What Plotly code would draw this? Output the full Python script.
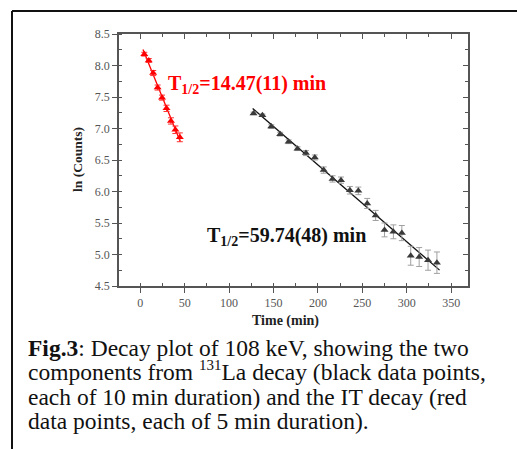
import numpy as np
import plotly.graph_objects as go

# IT decay (red), 5-min points
red_t = [4.5, 9.5, 14.5, 19.5, 24.5, 29.5, 34.5, 39.5, 44.5]
red_y = [8.18, 8.08, 7.88, 7.65, 7.49, 7.32, 7.12, 6.98, 6.86]
red_err = [0.03, 0.03, 0.04, 0.04, 0.04, 0.05, 0.05, 0.06, 0.07]

# 131La decay (black), 10-min points
blk_t = [127.5, 137.5, 147.5, 157.5, 167, 177, 186.5, 196.5, 206.5, 216.5, 226,
         236, 245.5, 255.5, 265, 275, 285, 294.5, 304.5, 314, 324, 334]
blk_y = [7.24, 7.21, 7.03, 6.91, 6.79, 6.68, 6.61, 6.54, 6.34, 6.20, 6.18,
         6.02, 6.01, 5.81, 5.62, 5.39, 5.36, 5.34, 4.98, 4.96, 4.91, 4.87]
blk_err = [0.02, 0.02, 0.03, 0.03, 0.03, 0.03, 0.04, 0.04, 0.05, 0.05, 0.05,
           0.06, 0.06, 0.08, 0.08, 0.11, 0.11, 0.12, 0.15, 0.15, 0.16, 0.17]

red_label = "T<sub>1/2</sub>=14.47(11) min"
blk_label = "T<sub>1/2</sub>=59.74(48) min"

x_ticks = [0, 50, 100, 150, 200, 250, 300, 350]
y_ticks = [4.5, 5.0, 5.5, 6.0, 6.5, 7.0, 7.5, 8.0, 8.5]

SERIF = "Liberation Serif, Times New Roman, serif"

# linear fits
rp = np.polyfit(red_t, red_y, 1)
bp = np.polyfit(blk_t, blk_y, 1)
rfx = np.array([red_t[0] - 1.5, red_t[-1] + 0.5])
bfx = np.array([blk_t[0] - 1, blk_t[-1] + 3])

fig = go.Figure()
fig.add_trace(go.Scatter(x=rfx, y=np.polyval(rp, rfx), mode="lines",
                         line=dict(color="#ff0000", width=1.3), showlegend=False))
fig.add_trace(go.Scatter(x=bfx, y=np.polyval(bp, bfx), mode="lines",
                         line=dict(color="#111111", width=1.3), showlegend=False))
fig.add_trace(go.Scatter(x=red_t, y=red_y, mode="markers",
                         marker=dict(symbol="triangle-up", size=7, color="#ff0000"),
                         error_y=dict(type="data", array=red_err, color="#ff3030",
                                      thickness=1, width=3),
                         showlegend=False))
fig.add_trace(go.Scatter(x=blk_t, y=blk_y, mode="markers",
                         marker=dict(symbol="triangle-up", size=7, color="#3a3a3a"),
                         error_y=dict(type="data", array=blk_err, color="#a0a0a0",
                                      thickness=1, width=3),
                         showlegend=False))
# invisible trace for mirror axes
fig.add_trace(go.Scatter(x=[0], y=[6], xaxis="x2", yaxis="y2", mode="markers",
                         marker=dict(opacity=0), showlegend=False, hoverinfo="skip"))

axcol = "#555555"
tickfont = dict(family=SERIF, size=12, color="#555555")
fig.update_layout(
    width=517, height=449,
    margin=dict(l=119, r=49, t=34, b=163),
    paper_bgcolor="white", plot_bgcolor="white",
    xaxis=dict(range=[-24, 369], showline=True, linecolor=axcol, linewidth=1.5,
               showgrid=False, zeroline=False, ticks="outside", ticklen=5,
               tickcolor=axcol, tickvals=x_ticks, tickfont=tickfont,
               minor=dict(ticks="inside", dtick=25, tick0=0, ticklen=3, tickcolor=axcol)),
    yaxis=dict(range=[4.5, 8.5], showline=True, linecolor=axcol, linewidth=1.5,
               showgrid=False, zeroline=False, ticks="outside", ticklen=5,
               tickcolor=axcol, tickvals=y_ticks, tickformat=".1f", tickfont=tickfont,
               minor=dict(ticks="inside", dtick=0.25, tick0=4.5, ticklen=3, tickcolor=axcol)),
    xaxis2=dict(overlaying="x", side="top", matches="x", showline=True, linecolor=axcol,
                linewidth=1.5, showgrid=False, zeroline=False, ticks="inside", ticklen=5,
                tickcolor=axcol, tickvals=x_ticks, showticklabels=False,
                minor=dict(ticks="inside", dtick=25, tick0=0, ticklen=3, tickcolor=axcol)),
    yaxis2=dict(overlaying="y", side="right", matches="y", showline=True, linecolor=axcol,
                linewidth=1.5, showgrid=False, zeroline=False, ticks="inside", ticklen=5,
                tickcolor=axcol, tickvals=y_ticks, showticklabels=False,
                minor=dict(ticks="inside", dtick=0.25, tick0=4.5, ticklen=3, tickcolor=axcol)),
)

def px(x):
    return (x - 119) / 349.0

def py(y):
    return (286 - y) / 252.0

ann = []
ann.append(dict(x=px(166), y=py(84), xref="paper", yref="paper", text="<b>" + red_label + "</b>",
                xanchor="left", yanchor="middle", showarrow=False,
                font=dict(family=SERIF, size=20, color="#ff0000")))
ann.append(dict(x=px(205), y=py(236), xref="paper", yref="paper", text="<b>" + blk_label + "</b>",
                xanchor="left", yanchor="middle", showarrow=False,
                font=dict(family=SERIF, size=20, color="#111111")))
ann.append(dict(x=px(77), y=py(160), xref="paper", yref="paper", text="<b>ln (Counts)</b>",
                textangle=-90, showarrow=False, xanchor="center", yanchor="middle",
                font=dict(family=SERIF, size=13.5, color="#222222")))
ann.append(dict(x=px(285), y=py(321), xref="paper", yref="paper", text="<b>Time (min)</b>",
                showarrow=False, xanchor="center", yanchor="middle",
                font=dict(family=SERIF, size=14, color="#222222")))

caption = [
    "<b>Fig.3</b>: Decay plot of 108 keV, showing the two",
    "components from <sup><span style='font-size:15px'>131</span></sup>La decay (black data points,",
    "each of 10 min duration) and the IT decay (red",
    "data points, each of 5 min duration).",
]
cap_y = [348, 371, 397, 421]
for line, yy in zip(caption, cap_y):
    ann.append(dict(x=px(26), y=py(yy), xref="paper", yref="paper", text=line,
                    showarrow=False, xanchor="left", yanchor="middle",
                    font=dict(family=SERIF, size=23.5, color="#111111")))
fig.update_layout(annotations=ann)

fig.update_layout(shapes=[
    dict(type="line", xref="paper", yref="paper", x0=px(12), x1=px(517), y0=py(11), y1=py(11),
         line=dict(color="#111111", width=2)),
    dict(type="line", xref="paper", yref="paper", x0=px(12), x1=px(12), y0=py(11), y1=py(449),
         line=dict(color="#111111", width=2)),
])

fig.write_html("out.html")
